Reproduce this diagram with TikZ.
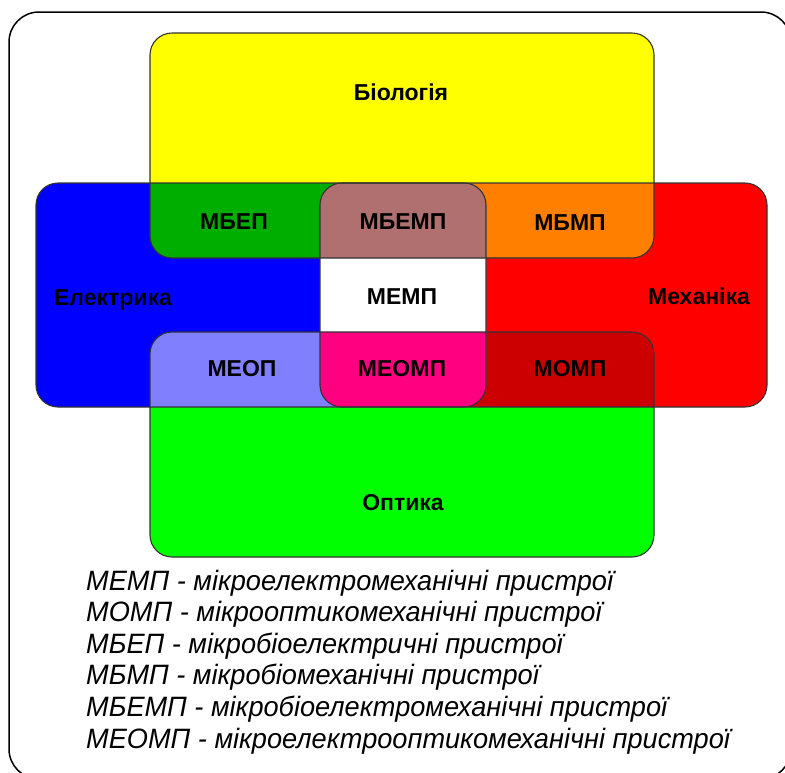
\documentclass[tikz,border=0pt]{standalone}
\usepackage{fontspec}
\setmainfont{Liberation Sans}
\newfontfamily\legendfont[FakeStretch=0.97]{Liberation Sans}
\usetikzlibrary{positioning}

\definecolor{bioCol}{HTML}{FFFF00}
\definecolor{elecCol}{HTML}{0000FF}
\definecolor{mechCol}{HTML}{FF0000}
\definecolor{optCol}{HTML}{00FF00}
\definecolor{mbepCol}{HTML}{00AE00}
\definecolor{mbmpCol}{HTML}{FF8000}
\definecolor{mbempCol}{HTML}{B07070}
\definecolor{meopCol}{HTML}{8080FF}
\definecolor{mompCol}{HTML}{CC0000}
\definecolor{meompCol}{HTML}{FF0080}

\begin{document}
\begin{tikzpicture}[x=1pt,y=-1pt,
    area/.style={rounded corners=22pt},
    rim/.style={draw=black!80,line width=1.1pt,rounded corners=22pt},
    lbl/.style={font=\fontsize{23}{23}\selectfont\bfseries,text height=16.5pt,text depth=0pt,inner sep=0pt},
    leg/.style={anchor=base west,inner sep=0pt,font=\legendfont\itshape\fontsize{28}{31}\selectfont}]
    \useasboundingbox (0,0) rectangle (785,772);

    % Outer frame
    \begin{scope}
        \clip (0,0) rectangle (785,772);
        \draw[line width=1.5pt,rounded corners=30pt] (9,12) rectangle (791,779);
    \end{scope}

    % Corners of the four fields
    \coordinate (bioNW) at (150,33);   \coordinate (bioSE) at (654,258);
    \coordinate (elecNW) at (36,183);  \coordinate (elecSE) at (486,407);
    \coordinate (mechNW) at (320,183); \coordinate (mechSE) at (767,407);
    \coordinate (optNW) at (150,332);  \coordinate (optSE) at (654,557);

    % Fields
    \fill[bioCol,area] (bioNW) rectangle (bioSE);
    \fill[elecCol,area] (elecNW) rectangle (elecSE);
    \fill[mechCol,area] (mechNW) rectangle (mechSE);
    \fill[optCol,area] (optNW) rectangle (optSE);

    % Overlaps of two fields
    \begin{scope}
        \clip[area] (bioNW) rectangle (bioSE);
        \fill[mbepCol,area] (elecNW) rectangle (elecSE);
        \fill[mbmpCol,area] (mechNW) rectangle (mechSE);
    \end{scope}
    \begin{scope}
        \clip[area] (optNW) rectangle (optSE);
        \fill[meopCol,area] (elecNW) rectangle (elecSE);
        \fill[mompCol,area] (mechNW) rectangle (mechSE);
    \end{scope}
    \begin{scope}
        \clip[area] (elecNW) rectangle (elecSE);
        \fill[white,area] (mechNW) rectangle (mechSE);
    \end{scope}

    % Overlaps of three fields
    \begin{scope}
        \clip[area] (bioNW) rectangle (bioSE);
        \clip[area] (elecNW) rectangle (elecSE);
        \fill[mbempCol,area] (mechNW) rectangle (mechSE);
    \end{scope}
    \begin{scope}
        \clip[area] (optNW) rectangle (optSE);
        \clip[area] (elecNW) rectangle (elecSE);
        \fill[meompCol,area] (mechNW) rectangle (mechSE);
    \end{scope}

    % Outlines
    \draw[rim] (bioNW) rectangle (bioSE);
    \draw[rim] (elecNW) rectangle (elecSE);
    \draw[rim] (mechNW) rectangle (mechSE);
    \draw[rim] (optNW) rectangle (optSE);

    % Field names
    \node[lbl] (bio) at (401,92) {Біологія};
    \node[lbl] (elec) at (113,297) {Електрика};
    \node[lbl] (mech) at (699,296) {Механіка};
    \node[lbl] (opt) at (403,502) {Оптика};

    % Overlap names
    \node[lbl] (mbep) at (234,221) {МБЕП};
    \node[lbl] (mbemp) at (403,221) {МБЕМП};
    \node[lbl] (mbmp) at (570,222) {МБМП};
    \node[lbl] (memp) at (402,296) {МЕМП};
    \node[lbl] (meop) at (242,368) {МЕОП};
    \node[lbl] (meomp) at (402,368) {МЕОМП};
    \node[lbl] (momp) at (570,368) {МОМП};

    % Legend
    \node[leg] (leg1) at (86,590) {МЕМП - мікроелектромеханічні пристрої};
    \node[leg] (leg2) at (86,621.6) {МОМП - мікрооптикомеханічні пристрої};
    \node[leg] (leg3) at (86,653.2) {МБЕП - мікробіоелектричні пристрої};
    \node[leg] (leg4) at (86,684.8) {МБМП - мікробіомеханічні пристрої};
    \node[leg] (leg5) at (86,716.4) {МБЕМП - мікробіоелектромеханічні пристрої};
    \node[leg] (leg6) at (86,748) {МЕОМП - мікроелектрооптикомеханічні пристрої};
\end{tikzpicture}
\end{document}
